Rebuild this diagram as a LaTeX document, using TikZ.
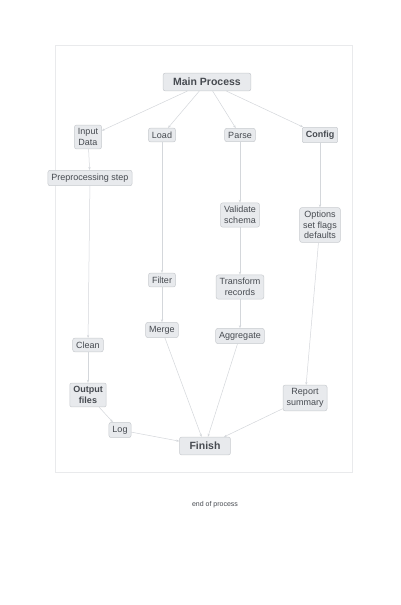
\documentclass[tikz,border=0pt]{standalone}
\usepackage{fontspec}
\setmainfont{Liberation Sans}
\usetikzlibrary{arrows.meta}
\definecolor{boxline}{RGB}{200,203,207}
\definecolor{boxfill}{RGB}{232,234,237}
\definecolor{txt}{RGB}{70,74,80}
\definecolor{edge}{RGB}{212,215,219}
\tikzset{
  box/.style={draw=boxline, line width=0.5pt, rounded corners=2pt, fill=boxfill,
    text=txt, font=\fontsize{9}{10.5}\selectfont, align=center, inner sep=3.5pt},
  headbox/.style={box, font=\bfseries\fontsize{10.5}{12}\selectfont, inner xsep=10pt, inner ysep=5pt},
  conn/.style={draw=edge, line width=0.5pt, -{Stealth[length=3pt]}},
  notetext/.style={text=txt, font=\fontsize{7}{8}\selectfont}
}
\begin{document}
\begin{tikzpicture}[x=1pt,y=-1pt]
\useasboundingbox (0,0) rectangle (400,605);
\fill[white] (0,0) rectangle (400,605);
\draw[boxline!40, line width=0.4pt] (55,45) rectangle (352,472);
\node[headbox] (top) at (207,82) {Main Process};
\node[box] (a1) at (88,137) {Input\\Data};
\node[box] (a2) at (162,135) {Load};
\node[box] (a3) at (240,135) {Parse};
\node[box, font=\bfseries\fontsize{9}{10.5}\selectfont] (a4) at (320,135) {Config};
\node[box] (a1b) at (90,178) {Preprocessing step};
\node[box] (b3) at (240,215) {Validate\\schema};
\node[box] (b4) at (320,225) {Options\\set flags\\defaults};
\node[box] (c2) at (162,280) {Filter};
\node[box] (c3) at (240,287) {Transform\\records};
\node[box] (d2) at (162,330) {Merge};
\node[box] (d3) at (240,336) {Aggregate};
\node[box] (e1) at (88,345) {Clean};
\node[box, font=\bfseries\fontsize{9}{10.5}\selectfont] (f1) at (88,395) {Output\\files};
\node[box] (f4) at (305,398) {Report\\summary};
\node[box] (g1) at (120,430) {Log};
\node[headbox] (h) at (205,446) {Finish};
\node[notetext] (note) at (215,505) {end of process};
\draw[conn] (top) -- (a1);
\draw[conn] (top) -- (a2);
\draw[conn] (top) -- (a3);
\draw[conn] (top) -- (a4);
\draw[conn] (a1) -- (a1b);
\draw[conn] (a1b) -- (e1);
\draw[conn] (e1) -- (f1);
\draw[conn] (f1) -- (g1);
\draw[conn] (g1) -- (h);
\draw[conn] (a2) -- (c2);
\draw[conn] (c2) -- (d2);
\draw[conn] (d2) -- (h);
\draw[conn] (a3) -- (b3);
\draw[conn] (b3) -- (c3);
\draw[conn] (c3) -- (d3);
\draw[conn] (d3) -- (h);
\draw[conn] (a4) -- (b4);
\draw[conn] (b4) -- (f4);
\draw[conn] (f4) -- (h);
\end{tikzpicture}
\end{document}
